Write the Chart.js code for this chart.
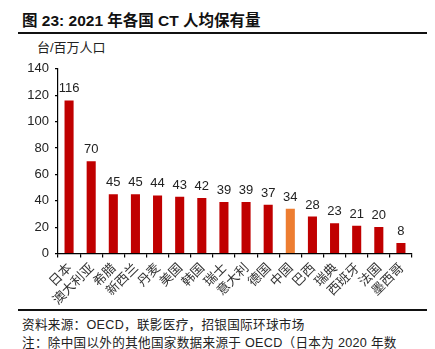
<!DOCTYPE html>
<html><head><meta charset="utf-8">
<script src="https://cdn.jsdelivr.net/npm/chart.js@4"></script>
<style>
html,body{margin:0;padding:0;background:#fff;}
body{width:435px;height:349px;position:relative;overflow:hidden;font-family:"Liberation Sans","Noto Sans CJK SC",sans-serif;}
#title{position:absolute;left:22px;top:8px;font-size:15.5px;font-weight:bold;color:#111;white-space:nowrap;}
.rule{position:absolute;left:18px;width:409px;height:2px;background:#111;}
#unit{position:absolute;left:37px;top:37px;font-size:13px;color:#222;white-space:nowrap;}
.foot{position:absolute;left:22px;font-size:12.6px;color:#222;white-space:nowrap;letter-spacing:0.3px;}
#wrap{position:absolute;left:0;top:55px;width:435px;height:252px;}
</style></head><body>
<div id="title">图 23: 2021 年各国 CT 人均保有量</div>
<div class="rule" style="top:32px"></div>
<div id="unit">台/百万人口</div>
<div id="wrap"><canvas id="c"></canvas></div>
<div class="rule" style="top:309px"></div>
<div class="foot" style="top:314px">资料来源：OECD，联影医疗，招银国际环球市场</div>
<div class="foot" style="top:332px">注：除中国以外的其他国家数据来源于 OECD（日本为 2020 年数</div>
<script>
const categories = ['日本','澳大利亚','希腊','新西兰','丹麦','美国','韩国','瑞士','意大利','德国','中国','巴西','瑞典','西班牙','法国','墨西哥'];
const values = [116,70,45,45,44,43,42,39,39,37,34,28,23,21,20,8];
const highlight = '中国';
const yTicks = [0,20,40,60,80,100,120,140];

const barColors = categories.map(c => c === highlight ? '#ED7D31' : '#C00000');

const labelPlugin = {
  id: 'valueLabels',
  afterDatasetsDraw(chart) {
    const ctx = chart.ctx;
    const meta = chart.getDatasetMeta(0);
    ctx.save();
    ctx.font = '13px "Liberation Sans", Arial, sans-serif';
    ctx.fillStyle = '#222';
    ctx.textAlign = 'center';
    ctx.textBaseline = 'alphabetic';
    meta.data.forEach((bar, i) => {
      ctx.fillText(String(values[i]), bar.x, bar.y - 8);
    });
    ctx.restore();
  }
};

new Chart(document.getElementById('c'), {
  type: 'bar',
  data: {
    labels: categories,
    datasets: [{ data: values, backgroundColor: barColors, barPercentage: 0.41, categoryPercentage: 1.0 }]
  },
  options: {
    responsive: true,
    maintainAspectRatio: false,
    animation: false,
    layout: { padding: { top: 11.5, right: 23, left: 0, bottom: 0 } },
    plugins: { legend: { display: false }, tooltip: { enabled: false } },
    scales: {
      x: {
        afterFit(s) { s.height = 53.5; },
        border: { display: true, color: '#000', width: 1.2 },
        grid: { display: true, offset: true, drawOnChartArea: false, drawTicks: true, tickLength: 4, color: '#000', lineWidth: 1.2 },
        ticks: { maxRotation: 45, minRotation: 45, autoSkip: false, padding: 2, color: '#333', font: { size: 13, family: '"Noto Sans CJK SC", sans-serif' } }
      },
      y: {
        min: 0, max: 140,
        afterFit(s) { s.width = 58; },
        afterBuildTicks(s) { s.ticks = yTicks.map(v => ({ value: v })); },
        border: { display: true, color: '#000', width: 1.2 },
        grid: { display: true, drawOnChartArea: false, drawTicks: true, tickLength: 3, color: '#000', lineWidth: 1.2 },
        ticks: { padding: 6, color: '#222', font: { size: 13, family: '"Liberation Sans", Arial, sans-serif' } }
      }
    }
  },
  plugins: [labelPlugin]
});
</script>
</body></html>
